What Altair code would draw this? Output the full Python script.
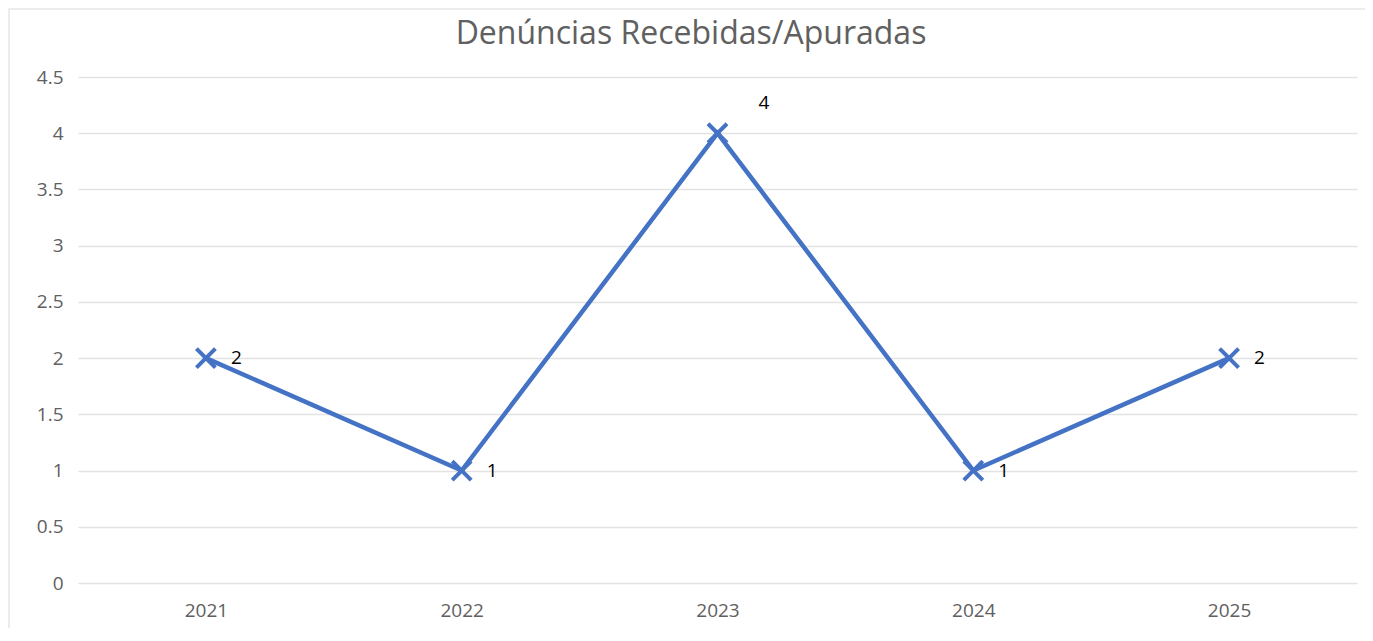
import altair as alt
import pandas as pd

years = ["2021", "2022", "2023", "2024", "2025"]
values = [2, 1, 4, 1, 2]
y_ticks = [0, 0.5, 1, 1.5, 2, 2.5, 3, 3.5, 4, 4.5]
title_text = ["Denúncias Recebidas/Apuradas"]

df = pd.DataFrame({"year": years, "value": values})
tdf = pd.DataFrame({"t": title_text})

FONT = "Open Sans"
BLUE = "#4472C4"
GRAY = "#606060"

x_enc = alt.X("year:O", scale=alt.Scale(type="point", padding=0.5),
              axis=alt.Axis(title=None, labelAngle=0, ticks=False, domain=False,
                            grid=False, labelPadding=18, labelFontSize=19,
                            labelColor=GRAY, labelFont=FONT))
y_enc = alt.Y("value:Q", scale=alt.Scale(domain=[0, 4.5], nice=False),
              axis=alt.Axis(title=None, values=y_ticks, ticks=False, domain=False,
                            grid=True, gridColor="#e3e3e3", gridWidth=1.5,
                            labelPadding=15, labelFontSize=19, labelColor=GRAY,
                            labelFont=FONT, format="~g"))

base = alt.Chart(df)

border = base.mark_rect(fill=None, stroke="#e6e6e6", strokeWidth=1.5).encode(
    x=alt.value(-69), x2=alt.value(1300), y=alt.value(-68), y2=alt.value(700)
).transform_filter("datum.year == '2021'")

title = alt.Chart(tdf).mark_text(fontSize=32, font=FONT, color=GRAY, align="center",
                                 baseline="alphabetic").encode(
    x=alt.value(613), y=alt.value(-33), text="t:N")

line = base.mark_line(color=BLUE, strokeWidth=4.5).encode(x=x_enc, y=y_enc)

points = base.mark_point(shape="M-1,-1L1,1M-1,1L1,-1", size=360, filled=False,
                         stroke=BLUE, strokeWidth=4, opacity=1).encode(x="year:O", y="value:Q")

labels = base.mark_text(align="left", baseline="middle", dx=25, fontSize=19,
                        font=FONT, color="#000000").encode(
    x="year:O", y="value:Q", text="value:Q"
).transform_filter("datum.year != '2023'")

label_peak = base.mark_text(align="left", baseline="middle", dx=41, dy=-30, fontSize=19,
                            font=FONT, color="#000000").encode(
    x="year:O", y="value:Q", text="value:Q"
).transform_filter("datum.year == '2023'")

chart = alt.layer(border, title, line, points, labels, label_peak).properties(
    width=1279, height=506,
    autosize=alt.AutoSizeParams(type="none"),
    padding={"left": 70, "top": 69, "right": 8, "bottom": 45},
).configure_view(stroke=None)

chart.save("out.html", embed_options={"renderer": "svg", "actions": False})
